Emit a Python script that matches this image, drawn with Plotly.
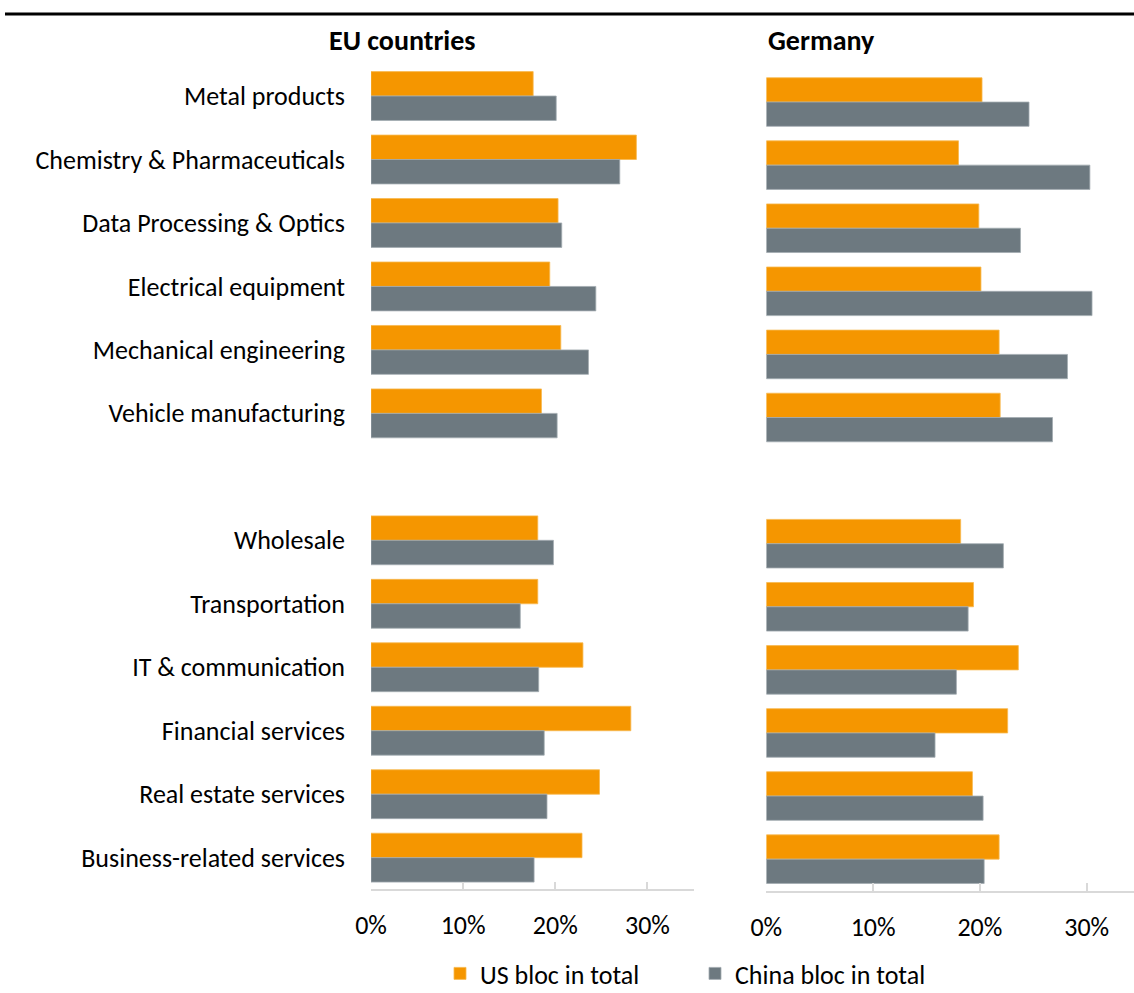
import plotly.graph_objects as go

# Sector labels, top to bottom; an empty slot separates manufacturing from services
manufacturing = [
    "Metal products",
    "Chemistry & Pharmaceuticals",
    "Data Processing & Optics",
    "Electrical equipment",
    "Mechanical engineering",
    "Vehicle manufacturing",
]
services = [
    "Wholesale",
    "Transportation",
    "IT & communication",
    "Financial services",
    "Real estate services",
    "Business-related services",
]

# Shares in percent
eu_us = [17.6, 28.8, 20.3, 19.4, 20.6, 18.5, 18.1, 18.1, 23.0, 28.2, 24.8, 22.9]
eu_china = [20.1, 27.0, 20.7, 24.4, 23.6, 20.2, 19.8, 16.2, 18.2, 18.8, 19.1, 17.7]
de_us = [20.2, 18.0, 19.9, 20.1, 21.8, 21.9, 18.2, 19.4, 23.6, 22.6, 19.3, 21.8]
de_china = [24.6, 30.3, 23.8, 30.5, 28.2, 26.8, 22.2, 18.9, 17.8, 15.8, 20.3, 20.4]

x_ticks = [0, 10, 20, 30]
x_tick_labels = ["0%", "10%", "20%", "30%"]

ORANGE = "#F59600"
GREY = "#6D7980"
FONT = "Calibri, Carlito, Lato, sans-serif"
TEXT_SIZE = 26

categories = manufacturing + services
slots = list(range(len(manufacturing))) + [
    len(manufacturing) + 1 + i for i in range(len(services))
]
n_slots = len(manufacturing) + 1 + len(services)

W, H = 1134, 993

fig = go.Figure()


def add_panel(us, china, xa, ya, show_legend):
    fig.add_trace(go.Bar(
        y=slots, x=us, orientation="h", name="US bloc in total",
        marker=dict(color=ORANGE, line=dict(color="#F8B94F", width=0.8)),
        xaxis=xa, yaxis=ya, showlegend=show_legend, legendgroup="us",
        offsetgroup="us",
    ))
    fig.add_trace(go.Bar(
        y=slots, x=china, orientation="h", name="China bloc in total",
        marker=dict(color=GREY, line=dict(color="#A3ACB1", width=0.8)),
        xaxis=xa, yaxis=ya, showlegend=show_legend, legendgroup="cn",
        offsetgroup="cn",
    ))


add_panel(eu_us, eu_china, "x", "y", True)
add_panel(de_us, de_china, "x2", "y2", False)


def px_x(p):
    return p / W


def px_y(p):
    return 1 - p / H


xaxis_common = dict(
    tickvals=x_ticks, ticktext=x_tick_labels,
    showgrid=False, zeroline=False,
    showline=True, linecolor="#D9D9D9", linewidth=1.5,
    ticks="inside", ticklen=8, tickcolor="#D9D9D9", tickwidth=1.5,
    tickfont=dict(family=FONT, size=TEXT_SIZE, color="#000000"),
    ticklabelstandoff=12,
    fixedrange=True, automargin=False,
)
yaxis_common = dict(
    range=[n_slots - 0.5, -0.5],
    showgrid=False, zeroline=False, showline=False, ticks="",
    fixedrange=True, automargin=False,
)

fig.update_layout(
    width=W, height=H,
    margin=dict(l=0, r=0, t=0, b=0, autoexpand=False),
    paper_bgcolor="white", plot_bgcolor="white",
    barmode="group", bargap=0.23, bargroupgap=0,
    font=dict(family=FONT, size=TEXT_SIZE, color="#000000"),
    xaxis=dict(domain=[px_x(371), px_x(693.5)], range=[0, 35], anchor="y", **xaxis_common),
    xaxis2=dict(domain=[px_x(766.3), 1.0], range=[0, 34.43], anchor="y2", **xaxis_common),
    yaxis=dict(
        domain=[px_y(889.4), px_y(64.3)], anchor="x",
        tickvals=slots, ticktext=categories,
        tickfont=dict(family=FONT, size=TEXT_SIZE, color="#000000"),
        ticklabelstandoff=25,
        **yaxis_common,
    ),
    yaxis2=dict(
        domain=[px_y(890.7), px_y(70.5)], anchor="x2",
        showticklabels=False,
        **yaxis_common,
    ),
    legend=dict(
        orientation="h", x=px_x(440), xanchor="left",
        y=px_y(950), yanchor="top",
        font=dict(family=FONT, size=TEXT_SIZE, color="#000000"),
        entrywidth=210, entrywidthmode="pixels",
        traceorder="normal", bgcolor="rgba(0,0,0,0)",
    ),
    annotations=[
        dict(text="<b>EU countries</b>", x=px_x(402), y=px_y(40),
             xref="paper", yref="paper", showarrow=False,
             xanchor="center", yanchor="middle",
             font=dict(family=FONT, size=28, color="#000000")),
        dict(text="<b>Germany</b>", x=px_x(821.5), y=px_y(40),
             xref="paper", yref="paper", showarrow=False,
             xanchor="center", yanchor="middle",
             font=dict(family=FONT, size=28, color="#000000")),
    ],
    shapes=[
        dict(type="line", xref="paper", yref="paper",
             x0=px_x(5), x1=1.0, y0=px_y(14), y1=px_y(14),
             line=dict(color="#000000", width=3)),
    ],
)

fig.write_html("out.html")
